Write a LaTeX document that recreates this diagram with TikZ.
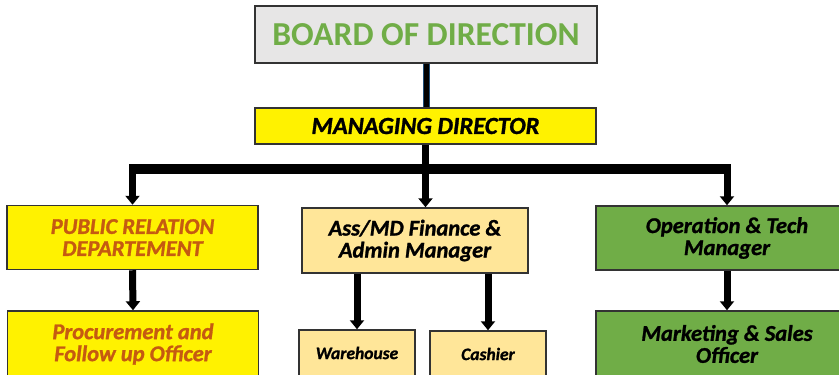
\documentclass[tikz,border=0pt]{standalone}
\usepackage{fontspec}
\setmainfont{Carlito}[BoldItalicFeatures={FakeBold=1.2}]
\usetikzlibrary{arrows.meta}
\definecolor{boardgray}{HTML}{E7E6E6}
\definecolor{boardgreen}{HTML}{70AD47}
\definecolor{deptorange}{HTML}{C55A11}
\definecolor{finbeige}{HTML}{FFE699}
\definecolor{linkblue}{HTML}{1F4E79}
\tikzset{
  box/.style={draw=black!80, line width=1.5pt, inner sep=0pt, align=center,
    font=\bfseries\itshape\fontsize{22.5}{22}\selectfont},
  feed/.style={line width=7pt, -{Triangle[width=14pt,length=9pt]}},
}
\begin{document}
\begin{tikzpicture}[x=1pt,y=-1pt]
	\useasboundingbox (0,0) rectangle (839,375);
	% top of the chart
	\node[box, fill=boardgray, text=boardgreen, minimum width=342pt, minimum height=57pt,
		font=\bfseries\fontsize{33.5}{33}\selectfont] (board) at (426,34.5) {BOARD OF DIRECTION};
	\node[box, fill=yellow, minimum width=341pt, minimum height=36pt,
		font=\bfseries\itshape\fontsize{24.5}{24}\selectfont] (md) at (425.5,126) {MANAGING DIRECTOR};
	\coordinate (bus) at ([yshift=-24pt]md.south);
	% departments
	\node[box, fill=yellow, text=deptorange, minimum width=251pt, minimum height=64pt] (pr) at (132.5,237.5) {PUBLIC RELATION\\DEPARTEMENT};
	\node[box, fill=finbeige, minimum width=226pt, minimum height=65pt] (fin) at (415,240.5) {Ass/MD Finance \&\\Admin Manager};
	\node[box, fill=boardgreen, minimum width=262pt, minimum height=64pt] (ops) at (727,238) {Operation \& Tech\\Manager};
	% bottom row
	\node[box, fill=yellow, text=deptorange, minimum width=251pt, minimum height=66pt] (proc) at (133,344) {Procurement and\\Follow up Officer};
	\node[box, fill=finbeige, minimum width=116pt, minimum height=46pt, font=\bfseries\itshape\fontsize{17.5}{17}\selectfont] (ware) at (357,353) {Warehouse};
	\node[box, fill=finbeige, minimum width=116pt, minimum height=46pt, font=\bfseries\itshape\fontsize{17.5}{17}\selectfont] (cash) at (488,354) {Cashier};
	\node[box, fill=boardgreen, minimum width=262pt, minimum height=66pt] (mkt) at (727,344) {Marketing \& Sales\\Officer};
	% connectors
	\draw[line width=1pt, linkblue, double=black, double distance=5pt] (board.south) -- (board.south |- md.north);
	\draw[line width=7pt] (md.south) -- (bus);
	\draw[line width=10pt, shorten <=-3.5pt, shorten >=-3.5pt] (bus -| pr.north) -- (bus -| ops.north);
	\draw[feed] (bus -| pr.north) -- (pr.north);
	\draw[feed] (bus) -- (bus |- fin.north);
	\draw[feed] (bus -| ops.north) -- (ops.north);
	\draw[feed] (pr.south) -- (proc.north);
	\draw[feed] (ops.south) -- (mkt.north);
	\draw[feed] (fin.south -| ware.north) -- (ware.north);
	\draw[feed] (fin.south -| cash.north) -- (cash.north);
\end{tikzpicture}
\end{document}
